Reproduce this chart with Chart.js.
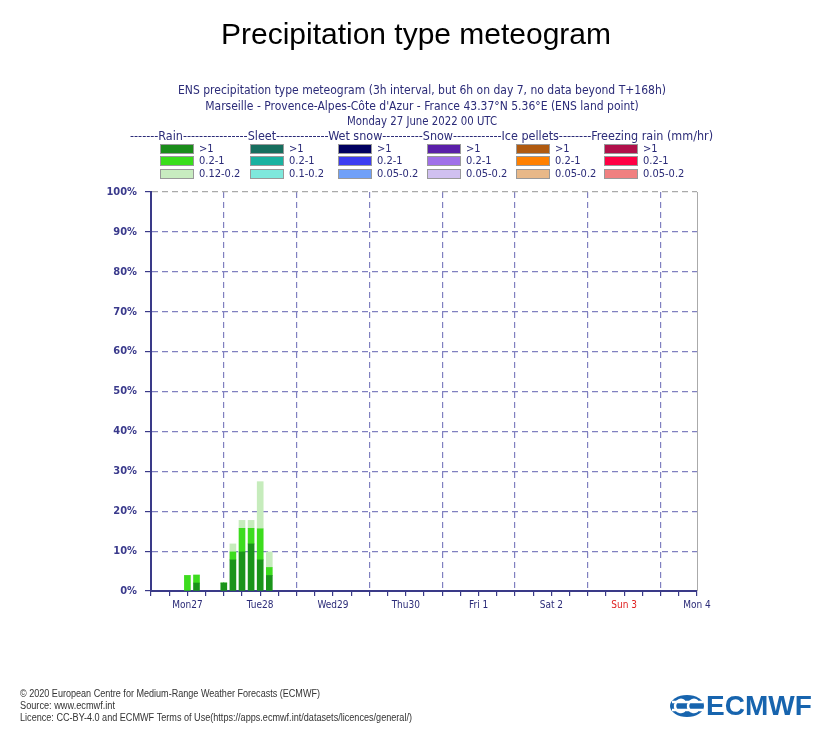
<!DOCTYPE html>
<html>
<head>
<meta charset="utf-8">
<script src="https://cdn.jsdelivr.net/npm/chart.js@4.4.1/dist/chart.umd.min.js"></script>
<style>
  html, body { margin: 0; padding: 0; background: #fff; }
  canvas { display: block; }
</style>
</head>
<body>
<canvas id="chart" width="833" height="750"></canvas>
<script>
// forecast step (hours from Mon 27 June 00 UTC) and % of ENS members
const stepHours = [12, 15, 24, 27, 30, 33, 36, 39];
const rainHeavy = [0, 2.0, 2.0, 7.8, 9.8, 11.8, 7.8, 3.9];     // >1 mm/hr
const rainModerate = [3.9, 2.0, 0, 2.0, 5.9, 3.9, 7.8, 2.0];   // 0.2-1
const rainLight = [0, 0, 0, 2.0, 2.0, 2.0, 11.8, 3.9];         // 0.12-0.2

const dayLabels = ["Mon27", "Tue28", "Wed29", "Thu30", "Fri 1", "Sat 2", "Sun 3", "Mon 4"];

const titleText = "Precipitation type meteogram";
const subtitleLines = [
  "ENS precipitation type meteogram (3h interval, but 6h on day 7, no data beyond T+168h)",
  "Marseille - Provence-Alpes-Côte d'Azur - France 43.37°N 5.36°E (ENS land point)",
  "Monday 27 June 2022 00 UTC"
];
const legendHeader = "-------Rain----------------Sleet-------------Wet snow----------Snow------------Ice pellets--------Freezing rain (mm/hr)";
const legendGroups = [
  { colors: ["#1a8c1a", "#3ade1c", "#c8ecc0"], labels: [">1", "0.2-1", "0.12-0.2"] },
  { colors: ["#176e5e", "#1ab2a0", "#7ee8dc"], labels: [">1", "0.2-1", "0.1-0.2"] },
  { colors: ["#000060", "#3c3cf0", "#70a0f8"], labels: [">1", "0.2-1", "0.05-0.2"] },
  { colors: ["#5a1fa8", "#a070e8", "#d0c0f0"], labels: [">1", "0.2-1", "0.05-0.2"] },
  { colors: ["#b05a10", "#ff8000", "#e8b888"], labels: [">1", "0.2-1", "0.05-0.2"] },
  { colors: ["#b0104a", "#ff0044", "#f08080"], labels: [">1", "0.2-1", "0.05-0.2"] }
];
const footerLines = [
  "© 2020 European Centre for Medium-Range Weather Forecasts (ECMWF)",
  "Source: www.ecmwf.int",
  "Licence: CC-BY-4.0 and ECMWF Terms of Use(https://apps.ecmwf.int/datasets/licences/general/)"
];

const navy = "#3a3a88";
const textNavy = "#2b2b78";

function toPoints(vals) {
  return stepHours.map((h, i) => ({ x: h, y: vals[i] }));
}

const decorPlugin = {
  id: "decor",
  beforeDraw(chart) {
    const c = chart.ctx;
    c.save();
    c.fillStyle = "#fff";
    c.fillRect(0, 0, chart.width, chart.height);
    c.restore();
  },
  afterDraw(chart) {
    const c = chart.ctx;
    const area = chart.chartArea;
    c.save();

    // right frame
    c.strokeStyle = "#aaaaaa";
    c.lineWidth = 1;
    c.beginPath();
    c.moveTo(area.right + 0.5, area.top);
    c.lineTo(area.right + 0.5, area.bottom);
    c.stroke();

    // title
    c.fillStyle = "#000";
    c.textAlign = "center";
    c.textBaseline = "middle";
    c.font = "30px 'Liberation Sans', Arial, sans-serif";
    c.fillText(titleText, 416, 36, 390);

    // subtitle
    c.fillStyle = textNavy;
    c.font = "12px 'DejaVu Sans Condensed', 'DejaVu Sans', sans-serif";
    const subW = [495, 441, 150];
    subtitleLines.forEach((t, i) => c.fillText(t, 422, 91 + i * 15.5, subW[i]));

    // legend header, stretched to the reference width
    c.textAlign = "left";
    c.font = "12px 'DejaVu Sans Condensed', 'DejaVu Sans', sans-serif";
    const hw = c.measureText(legendHeader).width;
    c.save();
    c.translate(130, 137);
    c.scale(583 / hw, 1);
    c.fillText(legendHeader, 0, 0);
    c.restore();

    // legend boxes
    const colX = [160, 250, 338, 427, 516, 604];
    const rowY = [144, 156, 169];
    c.font = "11px 'DejaVu Sans Condensed', 'DejaVu Sans', sans-serif";
    legendGroups.forEach((g, gi) => {
      g.colors.forEach((col, ri) => {
        c.fillStyle = col;
        c.fillRect(colX[gi], rowY[ri], 34, 10);
        c.strokeStyle = "#999";
        c.strokeRect(colX[gi] + 0.5, rowY[ri] + 0.5, 33, 9);
        c.fillStyle = textNavy;
        c.fillText(g.labels[ri], colX[gi] + 39, rowY[ri] + 5);
      });
    });

    // footer
    c.fillStyle = "#333";
    c.font = "10px 'Liberation Sans Narrow', 'Liberation Sans', Arial, sans-serif";
    const footW = [300, 95, 392];
    footerLines.forEach((t, i) => c.fillText(t, 20, 694 + i * 12, footW[i]));

    // logo
    const blue = "#1764ae";
    c.fillStyle = blue;
    c.beginPath();
    c.ellipse(687, 706, 17, 11, 0, 0, Math.PI * 2);
    c.fill();
    c.strokeStyle = "#fff";
    c.lineWidth = 2.5;
    c.beginPath();
    c.moveTo(672, 702); c.lineTo(703, 702);
    c.moveTo(672, 710); c.lineTo(703, 710);
    c.stroke();
    c.beginPath();
    c.arc(681, 706, 6, 0.3 * Math.PI, 1.7 * Math.PI, false);
    c.stroke();
    c.beginPath();
    c.arc(694, 706, 6, 0.3 * Math.PI, 1.7 * Math.PI, false);
    c.stroke();
    c.fillStyle = blue;
    c.font = "bold 28px 'Liberation Sans', Arial, sans-serif";
    c.fillText("ECMWF", 706, 707, 106);

    c.restore();
  }
};

new Chart(document.getElementById("chart"), {
  type: "bar",
  data: {
    datasets: [
      { label: ">1", data: toPoints(rainHeavy), backgroundColor: "#1a941a" },
      { label: "0.2-1", data: toPoints(rainModerate), backgroundColor: "#3ddc1e" },
      { label: "0.12-0.2", data: toPoints(rainLight), backgroundColor: "#c6ecbc" }
    ]
  },
  options: {
    responsive: false,
    devicePixelRatio: 1,
    animation: false,
    events: [],
    barThickness: 6,
    layout: { padding: { top: 192, right: 136, left: 0, bottom: 0 } },
    plugins: { legend: { display: false }, tooltip: { enabled: false }, title: { display: false } },
    scales: {
      x: {
        type: "linear",
        stacked: true,
        offset: false,
        min: 0,
        max: 180,
        afterFit: s => { s.height = 159; },
        grid: {
          offset: false,
          color: c => (c.tick && c.tick.value > 0 && c.tick.value % 24 === 0) ? "#8080c0" : "rgba(0,0,0,0)",
          tickColor: navy,
          tickLength: 5,
          lineWidth: 1.2
        },
        border: { color: navy, width: 2, dash: [6, 4] },
        ticks: {
          stepSize: 6,
          autoSkip: false,
          maxRotation: 0,
          minRotation: 0,
          padding: 3,
          font: { size: 10, family: "'DejaVu Sans Condensed', 'DejaVu Sans', sans-serif" },
          color: c => (c.tick && c.tick.value === 156) ? "#e02020" : textNavy,
          callback: v => (v % 24 === 12) ? dayLabels[(v - 12) / 24] : ""
        }
      },
      y: {
        stacked: true,
        min: 0,
        max: 100,
        afterFit: s => { s.width = 151; },
        grid: {
          color: c => (c.tick && c.tick.value === 100) ? "#aaaaaa" : "#8080c0",
          tickColor: navy,
          tickLength: 6,
          lineWidth: 1.2
        },
        border: { color: navy, width: 2, dash: [6, 4] },
        ticks: {
          stepSize: 10,
          padding: 8,
          font: { size: 11, weight: "bold", family: "'DejaVu Sans Condensed', 'DejaVu Sans', sans-serif" },
          color: "#3a3a8c",
          callback: v => v + "%"
        }
      }
    }
  },
  plugins: [decorPlugin]
});
</script>
</body>
</html>
